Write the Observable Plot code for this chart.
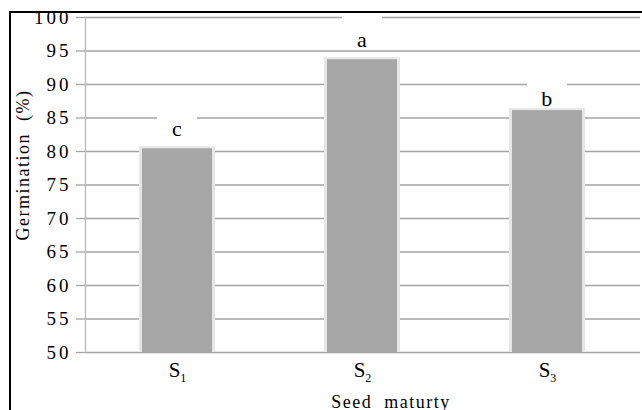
<!DOCTYPE html>
<html><head><meta charset="utf-8">
<script src="https://cdn.jsdelivr.net/npm/d3@7"></script>
<script src="https://cdn.jsdelivr.net/npm/@observablehq/plot@0.6"></script>
<style>
body{margin:0;background:#fff;}
#wrap{position:relative;width:642px;height:410px;overflow:hidden;}
#border{position:absolute;left:9px;top:11px;right:-5px;bottom:-5px;border-top:2px solid #000;border-left:2px solid #000;pointer-events:none;}
#wrap svg, #wrap svg text, #wrap svg tspan{font-family:'Liberation Serif','Times New Roman',serif !important;}
</style></head><body><div id="wrap"><div id="border"></div></div>
<script>
const categories = ["S1", "S2", "S3"];
const subscripts = ["1", "2", "3"];
const germination = [80.4, 93.7, 86.1];
const letters = ["c", "a", "b"];
const letterY = [83.4, 96.6, 87.9];
const yTicks = [50, 55, 60, 65, 70, 75, 80, 85, 90, 95, 100];
const yLabel = "Germination  (%)";
const xLabel = "Seed  maturty";

const rows = categories.map((c, i) => ({cat: c, sub: subscripts[i], value: germination[i], letter: letters[i], ly: letterY[i]}));

const chart = Plot.plot({
  width: 642, height: 410,
  marginLeft: 85, marginRight: 2, marginTop: 17, marginBottom: 58,
  style: "background: transparent; overflow: visible; font-family: 'Liberation Serif', serif;",
  x: {domain: categories, paddingInner: 0.62, paddingOuter: 0.31, label: null},
  y: {domain: [50, 100], label: null},
  marks: [
    Plot.gridY(yTicks, {stroke: "#a4a4a4", strokeOpacity: 1, strokeWidth: 1.3}),
    Plot.axisY(yTicks, {tickSize: 9, tickPadding: 5, stroke: "#a4a4a4", strokeOpacity: 1, strokeWidth: 1.3, fontSize: 19, fill: "#000", label: null}),
    Plot.frame({anchor: "left", stroke: "#b8b8b8", strokeWidth: 1.3}),
    Plot.barY(rows, {x: "cat", y1: 50, y2: "value", fill: "#e6e6e6", insetLeft: -3, insetRight: -3, insetTop: -2}),
    Plot.barY(rows, {x: "cat", y1: 50, y2: "value", fill: "#a6a6a6"}),
    Plot.barY(rows, {x: "cat", y1: d => d.ly + 1.3, y2: d => d.ly + 4.2, fill: "#ffffff", insetLeft: 15, insetRight: 15}),
    Plot.text(rows, {x: "cat", y: "ly", text: "letter", fontSize: 22, fill: "#000"}),
    Plot.axisX(categories, {tickSize: 0, tickPadding: 10, fontSize: 21, fill: "#000", label: null}),
    Plot.text([yLabel], {frameAnchor: "left", textAnchor: "middle", rotate: -90, dx: -62, dy: -20, fontSize: 18, fill: "#000"}),
    Plot.text([xLabel], {frameAnchor: "bottom", dx: 28, dy: 55, lineAnchor: "bottom", fontSize: 18, fill: "#000"})
  ]
});

const svg = d3.select(chart);
svg.selectAll('[aria-label="y-axis tick label"] text').attr("letter-spacing", 3);
svg.selectAll('[aria-label="x-axis tick label"] text').each(function() {
  const t = d3.select(this);
  const label = t.text();
  const row = rows.find(r => r.cat === label);
  t.text(null);
  t.append("tspan").text(label.charAt(0));
  t.append("tspan").attr("font-size", 12).attr("dy", "0.35em").text(row ? row.sub : "");
});
svg.selectAll('[aria-label="text"] text').attr("letter-spacing", 1.5);
document.getElementById("wrap").appendChild(chart);
</script></body></html>
